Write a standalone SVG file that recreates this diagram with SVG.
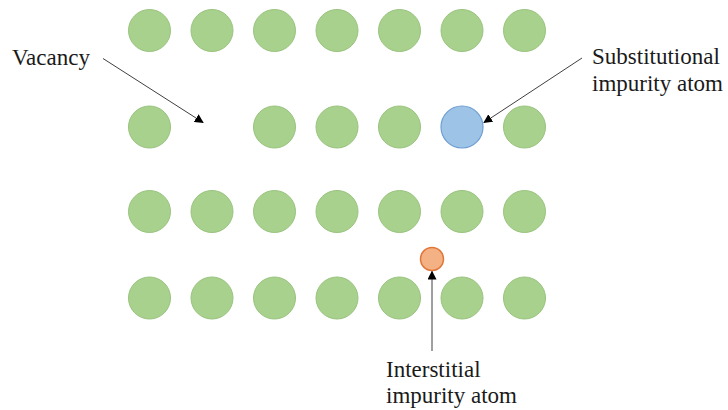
<svg xmlns="http://www.w3.org/2000/svg" width="728" height="410" viewBox="0 0 728 410">
  <style>
    .atom { fill: #A9D18E; stroke: #98C37D; stroke-width: 1; }
    .sub { fill: #9DC3E6; stroke: #6D9ED3; stroke-width: 1.2; }
    .int { fill: #F4B183; stroke: #E0763A; stroke-width: 1.5; }
    .lbl { font-family: "Times New Roman", Times, "Liberation Serif", Tinos, "Noto Serif", "DejaVu Serif", serif; font-size: 23px; fill: #1a1a1a; }
    .lead { stroke: #404040; stroke-width: 1; fill: none; marker-end: url(#head); }
  </style>
  <defs>
    <marker id="head" viewBox="0 0 10 10" refX="9" refY="5" markerWidth="9" markerHeight="9" markerUnits="userSpaceOnUse" orient="auto">
      <path d="M0,0 L10,5 L0,10 z" fill="#000"/>
    </marker>
    <symbol id="a" overflow="visible"><circle r="21" class="atom"/></symbol>
  </defs>
  <rect width="728" height="410" fill="#fff"/>

  <!-- row 1 -->
  <g id="row1">
    <use href="#a" x="149.5" y="30.5"/><use href="#a" x="212" y="30.5"/><use href="#a" x="274.5" y="30.5"/>
    <use href="#a" x="337" y="30.5"/><use href="#a" x="399.5" y="30.5"/><use href="#a" x="462" y="30.5"/>
    <use href="#a" x="524.5" y="30.5"/>
  </g>
  <!-- row 2: vacancy at column 2, substitution at column 6 -->
  <g id="row2">
    <use href="#a" x="149.5" y="127"/><use href="#a" x="274.5" y="127"/>
    <use href="#a" x="337" y="127"/><use href="#a" x="399.5" y="127"/>
    <use href="#a" x="524.5" y="127"/>
  </g>
  <g id="substitutional"><circle cx="462" cy="127" r="21" class="sub"/></g>
  <!-- row 3 -->
  <g id="row3">
    <use href="#a" x="149.5" y="211.5"/><use href="#a" x="212" y="211.5"/><use href="#a" x="274.5" y="211.5"/>
    <use href="#a" x="337" y="211.5"/><use href="#a" x="399.5" y="211.5"/><use href="#a" x="462" y="211.5"/>
    <use href="#a" x="524.5" y="211.5"/>
  </g>
  <!-- row 4 -->
  <g id="row4">
    <use href="#a" x="149.5" y="298"/><use href="#a" x="212" y="298"/><use href="#a" x="274.5" y="298"/>
    <use href="#a" x="337" y="298"/><use href="#a" x="399.5" y="298"/><use href="#a" x="462" y="298"/>
    <use href="#a" x="524.5" y="298"/>
  </g>
  <g id="interstitial"><circle cx="432" cy="259" r="11.5" class="int"/></g>

  <g id="connectors">
    <line class="lead" x1="103" y1="58.5" x2="203" y2="122.5"/>
    <line class="lead" x1="582" y1="58" x2="484" y2="122.5"/>
    <line class="lead" x1="432" y1="351" x2="432" y2="271.5"/>
  </g>

  <g id="labels">
    <text class="lbl" x="12" y="65">Vacancy</text>
    <text class="lbl" x="592" y="64">Substitutional</text>
    <text class="lbl" x="592" y="90.5">impurity atom</text>
    <text class="lbl" x="386" y="377">Interstitial</text>
    <text class="lbl" x="386" y="403">impurity atom</text>
  </g>
</svg>
